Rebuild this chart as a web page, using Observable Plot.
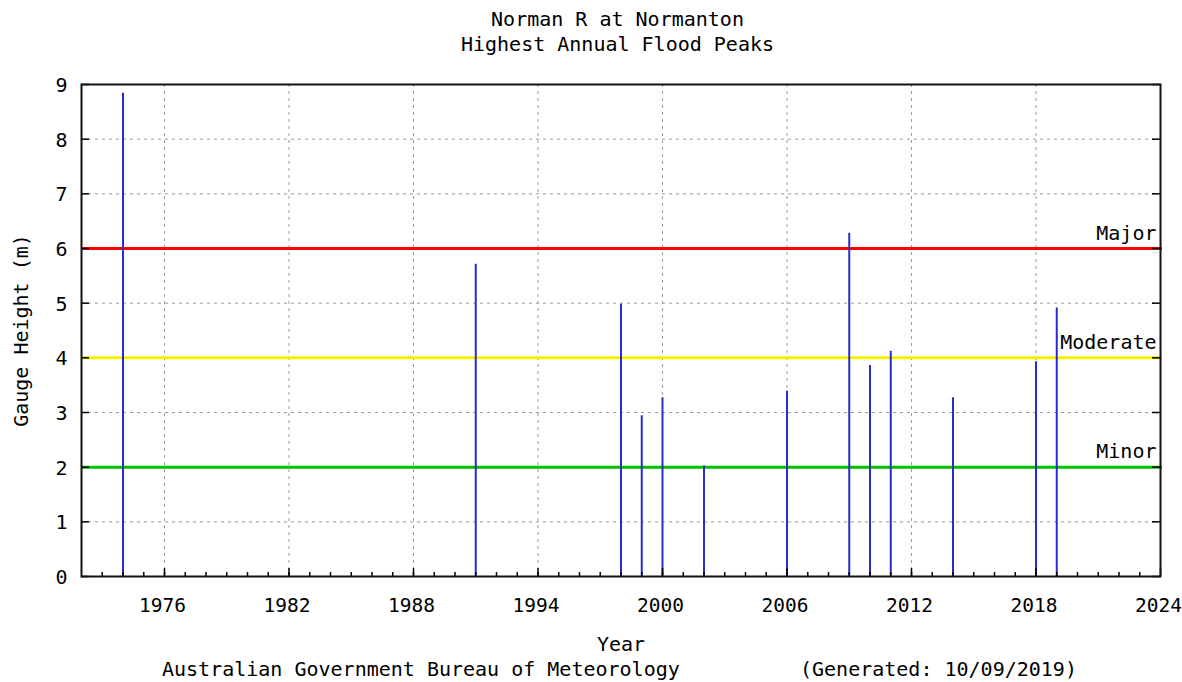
<!DOCTYPE html>
<html>
<head>
<meta charset="utf-8">
<script src="https://cdn.jsdelivr.net/npm/d3@7"></script>
<script src="https://cdn.jsdelivr.net/npm/@observablehq/plot@0.6"></script>
<style>
  body { margin: 0; background: #fff; }
  #wrap { position: relative; width: 1182px; height: 682px; font-family: "DejaVu Sans Mono", monospace; font-size: 20px; color: #000; overflow: hidden; }
  .t { position: absolute; white-space: pre; }
  #title { left: 0; width: 1235px; top: 7px; text-align: center; line-height: 25px; }
  #chart { position: absolute; left: 0; top: 57px; }
  .foot { top: 657px; line-height: 24px; }
</style>
</head>
<body>
<div id="wrap">
  <div class="t" id="title">Norman R at Normanton<br>Highest Annual Flood Peaks</div>
  <div id="chart"></div>
  <div class="t foot" style="left:162px">Australian Government Bureau of Meteorology</div>
  <div class="t foot" style="left:800px">(Generated: 10/09/2019)</div>
</div>
<script>
// Data
const years = [1974, 1991, 1998, 1999, 2000, 2002, 2006, 2009, 2010, 2011, 2014, 2018, 2019];
const peaks = [8.84, 5.71, 4.98, 2.94, 3.27, 2.02, 3.39, 6.28, 3.86, 4.12, 3.27, 3.93, 4.91];

const floodLabels = ["Major", "Moderate", "Minor"];
const floodLevels = [6, 4, 2];
const floodColors = ["#ff0000", "#f2f200", "#00c400"];

const xTicks = [1976, 1982, 1988, 1994, 2000, 2006, 2012, 2018, 2024];
const yTicks = [0, 1, 2, 3, 4, 5, 6, 7, 8, 9];
const xDomain = [1972, 2024];
const yDomain = [0, 9];
const minorYears = d3.range(1973, 2024);

const W = 1182, H = 600;
const mL = 81, mR = 22, mT = 27, mB = 81;
const plotW = W - mL - mR, plotH = H - mT - mB;

const peakData = years.map((year, i) => ({year, peak: peaks[i]}));

const grid = {stroke: "#9a9a9a", strokeOpacity: 1, strokeWidth: 1, strokeDasharray: "3,4"};

const marks = [
  Plot.ruleX(xTicks, {x: d => d, ...grid}),
  Plot.ruleY(yTicks, {y: d => d, ...grid}),
  ...floodLevels.map((v, i) => Plot.ruleY([v], {y: d => d, stroke: floodColors[i], strokeWidth: 3, insetRight: -2})),
  ...floodLevels.map((v, i) => Plot.text([floodLabels[i]], {x: () => xDomain[1], y: () => v, text: d => d, textAnchor: "end", lineAnchor: "bottom", dx: -4, dy: -9, fontSize: 20, fill: "#000"})),
  Plot.ruleX(peakData, {x: "year", y1: 0, y2: "peak", stroke: "#2a2ad2", strokeWidth: 2}),
  // inward ticks
  Plot.tickY(yTicks, {y: d => d, stroke: "#000", strokeWidth: 1.5, insetRight: plotW - 8}),
  Plot.tickY(yTicks, {y: d => d, stroke: "#000", strokeWidth: 1.5, insetLeft: plotW - 8}),
  Plot.tickX(xTicks, {x: d => d, stroke: "#000", strokeWidth: 1.5, insetTop: plotH - 8}),
  Plot.tickX(minorYears, {x: d => d, stroke: "#000", strokeWidth: 1.5, insetTop: plotH - 4}),
  Plot.frame({stroke: "#111", strokeWidth: 2}),
  Plot.axisX({ticks: xTicks, tickSize: 0, tickPadding: 22, dx: -2, tickFormat: d => String(d), label: null, fontSize: 19.5}),
  Plot.axisX({ticks: [], tickSize: 0, label: "Year", labelAnchor: "center", labelOffset: 74, labelArrow: "none", fontSize: 20}),
  Plot.axisY({ticks: yTicks, tickSize: 0, tickPadding: 14, dy: 1, tickFormat: d => String(d), label: "Gauge Height (m)", labelAnchor: "center", labelOffset: 68, labelArrow: "none", fontSize: 20})
];

const chart = Plot.plot({
  width: W, height: H,
  marginLeft: mL, marginRight: mR, marginTop: mT, marginBottom: mB,
  x: {type: "linear", domain: xDomain},
  y: {type: "linear", domain: yDomain},
  style: {fontFamily: "DejaVu Sans Mono, monospace", fontSize: "20px", background: "#fff", color: "#000", overflow: "visible"},
  marks
});
document.getElementById("chart").appendChild(chart);
</script>
</body>
</html>
